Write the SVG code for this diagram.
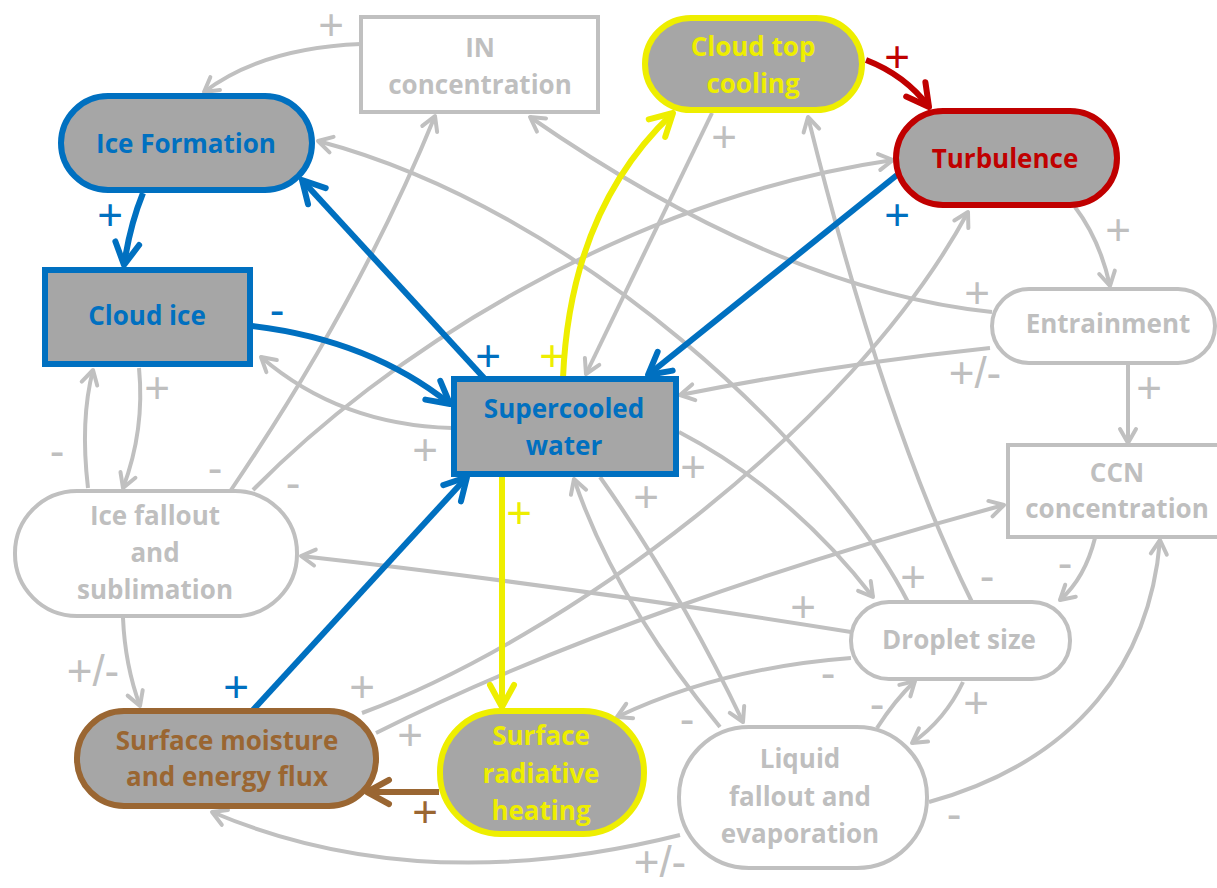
<svg xmlns="http://www.w3.org/2000/svg" width="1217" height="888" viewBox="0 0 1217 888">
<style>
.g{fill:none;stroke:#c0c0c0;stroke-width:4;marker-end:url(#ag)}
.b{fill:none;stroke:#0070c0;stroke-width:6;marker-end:url(#ab)}
.y{fill:none;stroke:#eeee00;stroke-width:6;marker-end:url(#ay)}
.r{fill:none;stroke:#c00000;stroke-width:6;marker-end:url(#ar)}
.br{fill:none;stroke:#9a6632;stroke-width:6;marker-end:url(#abr)}
.ng{fill:#ffffff;stroke:#c0c0c0;stroke-width:4}
.nb{fill:#a6a6a6;stroke:#0070c0;stroke-width:6}
.ny{fill:#a6a6a6;stroke:#eeee00;stroke-width:6}
.nr{fill:#a6a6a6;stroke:#c00000;stroke-width:6}
.nbr{fill:#a6a6a6;stroke:#9a6632;stroke-width:6}
text{font-family:"Open Sans","DejaVu Sans",sans-serif;font-weight:700;font-size:26px;text-anchor:middle}
.tg{fill:#bfbfbf}.tb{fill:#0070c0}.ty{fill:#eeee00}.tr{fill:#c00000}.tbr{fill:#9a6632}
.l{font-family:"Liberation Sans",Arial,sans-serif;font-weight:400;font-size:44px}
</style>
<defs>
<marker id="ag" viewBox="0 0 22 22" refX="18" refY="11" markerWidth="22" markerHeight="22" markerUnits="userSpaceOnUse" orient="auto"><path d="M4,3 L18,11 L4,19" fill="none" stroke="#c0c0c0" stroke-width="4" stroke-linecap="round" stroke-linejoin="round"/></marker>
<marker id="ab" viewBox="0 0 32 32" refX="27" refY="16" markerWidth="32" markerHeight="32" markerUnits="userSpaceOnUse" orient="auto"><path d="M5,4 L27,16 L5,28" fill="none" stroke="#0070c0" stroke-width="6" stroke-linecap="round" stroke-linejoin="round"/></marker>
<marker id="ay" viewBox="0 0 32 32" refX="27" refY="16" markerWidth="32" markerHeight="32" markerUnits="userSpaceOnUse" orient="auto"><path d="M5,4 L27,16 L5,28" fill="none" stroke="#eeee00" stroke-width="6" stroke-linecap="round" stroke-linejoin="round"/></marker>
<marker id="ar" viewBox="0 0 32 32" refX="27" refY="16" markerWidth="32" markerHeight="32" markerUnits="userSpaceOnUse" orient="auto"><path d="M5,4 L27,16 L5,28" fill="none" stroke="#c00000" stroke-width="6" stroke-linecap="round" stroke-linejoin="round"/></marker>
<marker id="abr" viewBox="0 0 32 32" refX="27" refY="16" markerWidth="32" markerHeight="32" markerUnits="userSpaceOnUse" orient="auto"><path d="M5,4 L27,16 L5,28" fill="none" stroke="#9a6632" stroke-width="6" stroke-linecap="round" stroke-linejoin="round"/></marker>
</defs>
<rect width="1217" height="888" fill="#ffffff"/>
<g id="connectors">
<path class="g" d="M361,44 Q262,48 204,92"/>
<path class="g" d="M908,602 C830,450 580,210 318,141"/>
<path class="g" d="M972,602 Q885,427 808,117"/>
<path class="g" d="M712,113 L586,374"/>
<path class="g" d="M992,312 Q780,290 530,117"/>
<path class="g" d="M990,348 Q830,365 680,395"/>
<path class="g" d="M253,490 C380,360 620,200 893,160"/>
<path class="g" d="M231,490 Q360,300 435,116"/>
<path class="g" d="M452,428 Q340,425 261,357"/>
<path class="g" d="M139,368 Q145,430 123,488"/>
<path class="g" d="M88,488 Q80,420 93,370"/>
<path class="g" d="M123,618 Q125,665 140,706"/>
<path class="g" d="M362,713 C560,640 850,430 968,212"/>
<path class="g" d="M376,733 C560,640 800,560 1004,505"/>
<path class="g" d="M679,432 Q790,490 873,597"/>
<path class="g" d="M600,477 Q680,590 743,722"/>
<path class="g" d="M720,727 Q615,600 574,479"/>
<path class="g" d="M851,632 Q560,585 301,556"/>
<path class="g" d="M851,658 Q720,668 617,717"/>
<path class="g" d="M877,728 Q895,700 915,681"/>
<path class="g" d="M963,682 Q945,720 912,743"/>
<path class="g" d="M1095,538 Q1085,578 1060,600"/>
<path class="g" d="M929,802 C1080,760 1150,660 1160,540"/>
<path class="g" d="M1128,364 L1128,443"/>
<path class="g" d="M1075,207 Q1100,240 1110,286"/>
<path class="g" d="M680,835 Q420,900 212,812"/>
<path class="r" d="M866,60 Q905,75 929,107"/>
<path class="b" d="M143,193 Q130,225 124,265"/>
<path class="b" d="M484,378 L302,180"/>
<path class="b" d="M252,326 Q370,340 450,404"/>
<path class="b" d="M897,175 L648,375"/>
<path class="y" d="M563,378 Q570,210 673,113"/>
<path class="y" d="M502,477 L502,707"/>
<path class="b" d="M253,710 L467,477"/>
<path class="br" d="M439,792 L367,792"/>
</g>
<g id="labels">
<text class="l tg" x="331" y="40">+</text>
<text class="l tb" x="110" y="230">+</text>
<text class="l tb" x="488" y="371">+</text>
<text class="l ty" x="552" y="371">+</text>
<text class="l tb" x="277" y="325">-</text>
<text class="l tg" x="724" y="152">+</text>
<text class="l tr" x="897" y="72">+</text>
<text class="l tb" x="897" y="230">+</text>
<text class="l tg" x="1118" y="245">+</text>
<text class="l tg" x="977" y="308">+</text>
<text class="l tg" x="975" y="388">+/-</text>
<text class="l tg" x="1149" y="403">+</text>
<text class="l tg" x="1065" y="578">-</text>
<text class="l tg" x="987" y="591">-</text>
<text class="l tg" x="913" y="592">+</text>
<text class="l tg" x="157" y="403">+</text>
<text class="l tg" x="57" y="466">-</text>
<text class="l tg" x="215" y="483">-</text>
<text class="l tg" x="293" y="498">-</text>
<text class="l tg" x="425" y="465">+</text>
<text class="l tg" x="646" y="512">+</text>
<text class="l tg" x="693" y="482">+</text>
<text class="l ty" x="519" y="528">+</text>
<text class="l tg" x="93" y="686">+/-</text>
<text class="l tb" x="236" y="702">+</text>
<text class="l tg" x="362" y="702">+</text>
<text class="l tg" x="410" y="750">+</text>
<text class="l tbr" x="425" y="827">+</text>
<text class="l tg" x="687" y="734">-</text>
<text class="l tg" x="660" y="877">+/-</text>
<text class="l tg" x="803" y="622">+</text>
<text class="l tg" x="828" y="688">-</text>
<text class="l tg" x="877" y="719">-</text>
<text class="l tg" x="976" y="718">+</text>
<text class="l tg" x="954" y="829">-</text>
</g>
<g id="node-in"><rect class="ng" x="361" y="17" width="237" height="95"/><text class="tg" x="480" y="57">IN</text><text class="tg" x="480" y="94">concentration</text></g>
<g id="node-cloudtop"><rect class="ny" x="645" y="18" width="217" height="92" rx="46"/><text class="ty" x="753" y="56">Cloud top</text><text class="ty" x="753" y="93">cooling</text></g>
<g id="node-iceformation"><rect class="nb" x="61" y="96" width="251" height="94" rx="47"/><text class="tb" x="186" y="153">Ice Formation</text></g>
<g id="node-turbulence"><rect class="nr" x="896" y="111" width="221" height="94" rx="47"/><text class="tr" x="1005" y="168">Turbulence</text></g>
<g id="node-cloudice"><rect class="nb" x="45" y="270" width="205" height="94"/><text class="tb" x="147" y="325">Cloud ice</text></g>
<g id="node-entrainment"><rect class="ng" x="992" y="289" width="223" height="74" rx="37"/><text class="tg" x="1108" y="333">Entrainment</text></g>
<g id="node-supercooled"><rect class="nb" x="454" y="379" width="222" height="95"/><text class="tb" x="564" y="418">Supercooled</text><text class="tb" x="564" y="455">water</text></g>
<g id="node-ccn"><rect class="ng" x="1008" y="445" width="222" height="92"/><text class="tg" x="1117" y="482">CCN</text><text class="tg" x="1117" y="518">concentration</text></g>
<g id="node-icefallout"><rect class="ng" x="15" y="491" width="282" height="125" rx="62"/><text class="tg" x="155" y="525">Ice fallout</text><text class="tg" x="155" y="562">and</text><text class="tg" x="155" y="599">sublimation</text></g>
<g id="node-droplet"><rect class="ng" x="851" y="602" width="219" height="77" rx="38"/><text class="tg" x="959" y="649">Droplet size</text></g>
<g id="node-surfacemoisture"><rect class="nbr" x="77" y="711" width="299" height="95" rx="47"/><text class="tbr" x="227" y="750">Surface moisture</text><text class="tbr" x="227" y="786">and energy flux</text></g>
<g id="node-radiative"><rect class="ny" x="440" y="711" width="204" height="123" rx="61"/><text class="ty" x="541" y="745">Surface</text><text class="ty" x="541" y="783">radiative</text><text class="ty" x="541" y="820">heating</text></g>
<g id="node-liquid"><rect class="ng" x="679" y="727" width="248" height="141" rx="70"/><text class="tg" x="800" y="768">Liquid</text><text class="tg" x="800" y="806">fallout and</text><text class="tg" x="800" y="843">evaporation</text></g>
</svg>
